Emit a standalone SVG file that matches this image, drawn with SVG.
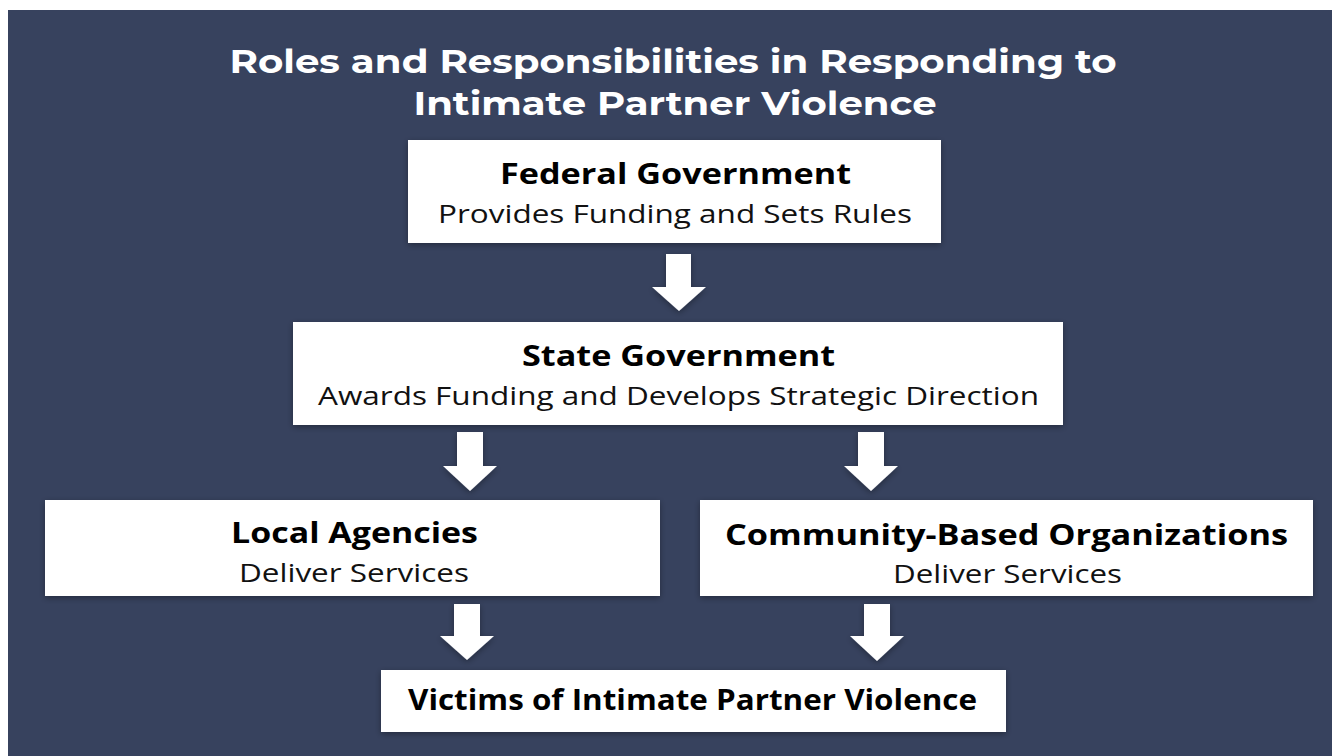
<svg xmlns="http://www.w3.org/2000/svg" width="1332" height="756" viewBox="0 0 1332 756">
<defs>
<filter id="sh" x="-10%" y="-20%" width="120%" height="150%">
<feDropShadow dx="0" dy="2" stdDeviation="3" flood-color="#000" flood-opacity="0.35"/>
</filter>
<style>
.box{fill:#ffffff;filter:url(#sh)}
.arrow{fill:#ffffff;filter:url(#sh)}
.title{font-family:"Montserrat","Open Sans","Liberation Sans",sans-serif;font-weight:700;font-size:32px;fill:#ffffff;text-anchor:middle}
.h{font-family:"Open Sans","Liberation Sans",sans-serif;font-weight:700;font-size:29px;fill:#000;text-anchor:middle}
.s{font-family:"Open Sans","Liberation Sans",sans-serif;font-weight:400;font-size:26px;fill:#111;text-anchor:middle}
</style>
</defs>
<rect x="0" y="0" width="1332" height="756" fill="#ffffff"/>
<rect x="8" y="10" width="1324" height="746" fill="#37425e"/>
<g id="title">
<text class="title" x="673" y="73" textLength="887" lengthAdjust="spacingAndGlyphs">Roles and Responsibilities in Responding to</text>
<text class="title" x="675" y="115" textLength="523" lengthAdjust="spacingAndGlyphs">Intimate Partner Violence</text>
</g>
<g id="connectors">
<polygon class="arrow" points="666,254 691,254 691,287 706,287 679,311 652,287 666,287"/>
<polygon class="arrow" points="457,432 483,432 483,466 497,466 470,491 443,466 457,466"/>
<polygon class="arrow" points="858,432 884,432 884,466 898,466 871,491 844,466 858,466"/>
<polygon class="arrow" points="454,604 480,604 480,636 494,636 467,660 440,636 454,636"/>
<polygon class="arrow" points="864,604 890,604 890,636 904,636 877,661 850,636 864,636"/>
</g>
<g id="federal">
<rect class="box" x="408" y="140" width="533" height="103"/>
<text class="h" x="675.5" y="184" textLength="351" lengthAdjust="spacingAndGlyphs">Federal Government</text>
<text class="s" x="675" y="223" textLength="474" lengthAdjust="spacingAndGlyphs">Provides Funding and Sets Rules</text>
</g>
<g id="state">
<rect class="box" x="293" y="322" width="770" height="103"/>
<text class="h" x="678.5" y="366" textLength="313" lengthAdjust="spacingAndGlyphs">State Government</text>
<text class="s" x="678.5" y="405" textLength="721" lengthAdjust="spacingAndGlyphs">Awards Funding and Develops Strategic Direction</text>
</g>
<g id="local">
<rect class="box" x="45" y="500" width="615" height="96"/>
<text class="h" x="354.5" y="543" textLength="247" lengthAdjust="spacingAndGlyphs">Local Agencies</text>
<text class="s" x="354" y="582" textLength="230" lengthAdjust="spacingAndGlyphs">Deliver Services</text>
</g>
<g id="community">
<rect class="box" x="700" y="500" width="613" height="96"/>
<text class="h" x="1006.5" y="545" textLength="563" lengthAdjust="spacingAndGlyphs">Community-Based Organizations</text>
<text class="s" x="1007.5" y="583" textLength="229" lengthAdjust="spacingAndGlyphs">Deliver Services</text>
</g>
<g id="victims">
<rect class="box" x="381" y="670" width="625" height="62"/>
<text class="h" x="692.5" y="710" font-size="27" textLength="569" lengthAdjust="spacingAndGlyphs">Victims of Intimate Partner Violence</text>
</g>
</svg>
